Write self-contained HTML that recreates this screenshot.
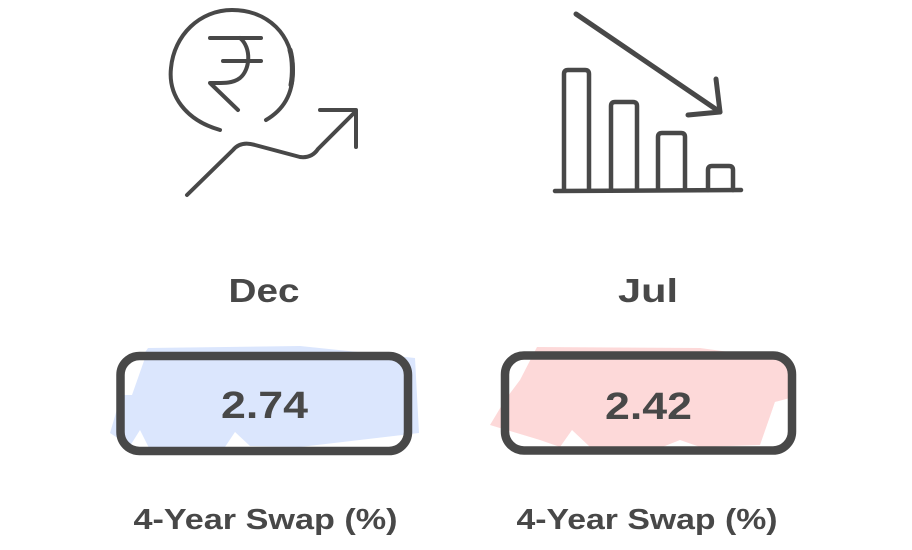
<!DOCTYPE html>
<html><head><meta charset="utf-8"><style>
html,body{margin:0;padding:0;background:#fff;}
svg{display:block;}
text{font-family:"Liberation Sans",sans-serif;font-weight:bold;fill:#484848;}
</style></head><body>
<svg width="912" height="550" viewBox="0 0 912 550" xmlns="http://www.w3.org/2000/svg">
<rect width="912" height="550" fill="#fff"/>
<!-- Rupee icon -->
<g fill="none" stroke="#484848" stroke-width="4" stroke-linecap="round" stroke-linejoin="round">
  <path d="M220,130 C185,120 168,95 171,68 C174,35 200,10 232,10 C268,10 293,35 293,70 C293,95 283,110 266,120"/>
  <path d="M290,50 C293,60 293,75 291,85" stroke-width="5"/>
  <path d="M210,38 L261,38"/>
  <path d="M223,61 L261,61"/>
  <path d="M240,38 C252,48 250,70 240,78 C232,84 222,83 210,83 L238,110"/>
  <path d="M187,195 L233,150 C238,144 245,142 255,145 L300,157 C308,158 314,155 318,149 L355,112"/>
  <path d="M320,110 L356,110 L356,147"/>
</g>
<!-- Bar chart icon -->
<g fill="none" stroke="#484848" stroke-width="4.5" stroke-linecap="round" stroke-linejoin="round">
  <path d="M555,191 L741,190"/>
  <path d="M564,190 L564,74 Q564,70 568,70 L585,70 Q589,70 589,74 L589,190"/>
  <path d="M611,190 L611,106 Q611,102 615,102 L633,102 Q637,102 637,106 L637,190"/>
  <path d="M658,190 L658,137 Q658,133 662,133 L681,133 Q685,133 685,137 L685,190"/>
  <path d="M708,190 L708,170 Q708,166 712,166 L729,166 Q733,166 733,170 L733,190"/>
  <path d="M576,14 L720,112" stroke-width="5"/>
  <path d="M688,115 L720,112 L716,79" stroke-width="5"/>
</g>
<!-- Labels -->
<text x="264" y="302" font-size="33" text-anchor="middle" textLength="71" lengthAdjust="spacingAndGlyphs">Dec</text>
<text x="648" y="302" font-size="33" text-anchor="middle" textLength="60" lengthAdjust="spacingAndGlyphs">Jul</text>
<!-- Left box fill -->
<polygon points="148,348 300,346 415,358 419,433 300,447 250,446 235,432 225,447 150,450 140,430 130,446 110,433 125,382" fill="#dbe6fd"/>
<polygon points="122,358 145,358 132,395 122,395" fill="#fff"/>
<!-- Right box fill -->
<polygon points="537,347 700,348 788,360 790,398 775,402 760,445 700,447 680,440 660,448 590,447 572,430 560,447 540,440 490,425 505,400 520,380" fill="#fdd9d9"/>
<polygon points="775,402 790,400 790,448 760,448" fill="#fff"/>
<!-- Boxes -->
<rect x="120.5" y="356" width="287.5" height="95" rx="19" fill="none" stroke="#484848" stroke-width="8.5"/>
<rect x="505" y="355.5" width="287" height="95" rx="19" fill="none" stroke="#484848" stroke-width="8.5"/>
<!-- Values -->
<text x="264.5" y="418" font-size="38" text-anchor="middle" textLength="87" lengthAdjust="spacingAndGlyphs">2.74</text>
<text x="648.5" y="419" font-size="38" text-anchor="middle" textLength="87" lengthAdjust="spacingAndGlyphs">2.42</text>
<!-- Bottom labels -->
<text x="265.5" y="529" font-size="29" text-anchor="middle" textLength="264" lengthAdjust="spacingAndGlyphs">4-Year Swap (%)</text>
<text x="647" y="529" font-size="29" text-anchor="middle" textLength="261" lengthAdjust="spacingAndGlyphs">4-Year Swap (%)</text>
</svg>
</body></html>
